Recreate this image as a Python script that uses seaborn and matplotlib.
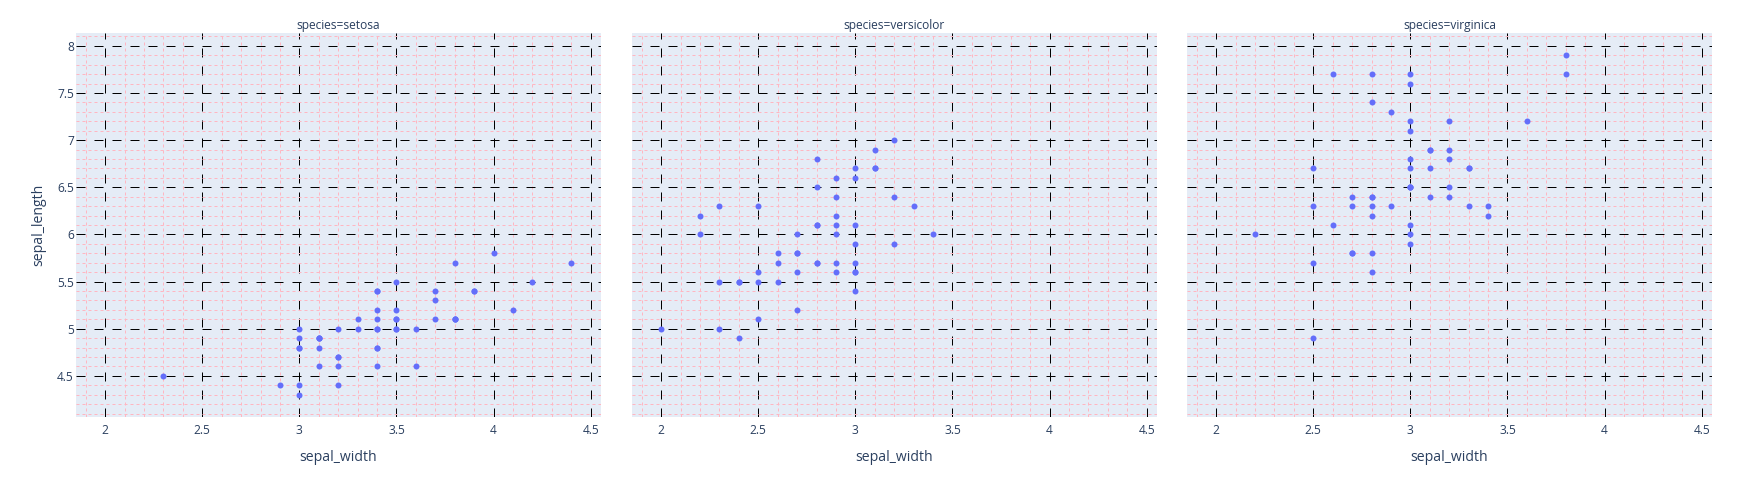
import numpy as np
import pandas as pd
import matplotlib
matplotlib.use("Agg")
import matplotlib.pyplot as plt
from matplotlib.ticker import MultipleLocator, FuncFormatter
import seaborn as sns

# iris sepal measurements, one list pair per species
species_names = ["setosa", "versicolor", "virginica"]

setosa_width = [3.5, 3.0, 3.2, 3.1, 3.6, 3.9, 3.4, 3.4, 2.9, 3.1,
                3.7, 3.4, 3.0, 3.0, 4.0, 4.4, 3.9, 3.5, 3.8, 3.8,
                3.4, 3.7, 3.6, 3.3, 3.4, 3.0, 3.4, 3.5, 3.4, 3.2,
                3.1, 3.4, 4.1, 4.2, 3.1, 3.2, 3.5, 3.1, 3.0, 3.4,
                3.5, 2.3, 3.2, 3.5, 3.8, 3.0, 3.8, 3.2, 3.7, 3.3]
setosa_length = [5.1, 4.9, 4.7, 4.6, 5.0, 5.4, 4.6, 5.0, 4.4, 4.9,
                 5.4, 4.8, 4.8, 4.3, 5.8, 5.7, 5.4, 5.1, 5.7, 5.1,
                 5.4, 5.1, 4.6, 5.1, 4.8, 5.0, 5.0, 5.2, 5.2, 4.7,
                 4.8, 5.4, 5.2, 5.5, 4.9, 5.0, 5.5, 4.9, 4.4, 5.1,
                 5.0, 4.5, 4.4, 5.0, 5.1, 4.8, 5.1, 4.6, 5.3, 5.0]

versicolor_width = [3.2, 3.2, 3.1, 2.3, 2.8, 2.8, 3.3, 2.4, 2.9, 2.7,
                    2.0, 3.0, 2.2, 2.9, 2.9, 3.1, 3.0, 2.7, 2.2, 2.5,
                    3.2, 2.8, 2.5, 2.8, 2.9, 3.0, 2.8, 3.0, 2.9, 2.6,
                    2.4, 2.4, 2.7, 2.7, 3.0, 3.4, 3.1, 2.3, 3.0, 2.5,
                    2.6, 3.0, 2.6, 2.3, 2.7, 3.0, 2.9, 2.9, 2.5, 2.8]
versicolor_length = [7.0, 6.4, 6.9, 5.5, 6.5, 5.7, 6.3, 4.9, 6.6, 5.2,
                     5.0, 5.9, 6.0, 6.1, 5.6, 6.7, 5.6, 5.8, 6.2, 5.6,
                     5.9, 6.1, 6.3, 6.1, 6.4, 6.6, 6.8, 6.7, 6.0, 5.7,
                     5.5, 5.5, 5.8, 6.0, 5.4, 6.0, 6.7, 6.3, 5.6, 5.5,
                     5.5, 6.1, 5.8, 5.0, 5.6, 5.7, 5.7, 6.2, 5.1, 5.7]

virginica_width = [3.3, 2.7, 3.0, 2.9, 3.0, 3.0, 2.5, 2.9, 2.5, 3.6,
                   3.2, 2.7, 3.0, 2.5, 2.8, 3.2, 3.0, 3.8, 2.6, 2.2,
                   3.2, 2.8, 2.8, 2.7, 3.3, 3.2, 2.8, 3.0, 2.8, 3.0,
                   2.8, 3.8, 2.8, 2.8, 2.6, 3.0, 3.4, 3.1, 3.0, 3.1,
                   3.1, 3.1, 2.7, 3.2, 3.3, 3.0, 2.5, 3.0, 3.4, 3.0]
virginica_length = [6.3, 5.8, 7.1, 6.3, 6.5, 7.6, 4.9, 7.3, 6.7, 7.2,
                    6.5, 6.4, 6.8, 5.7, 5.8, 6.4, 6.5, 7.7, 7.7, 6.0,
                    6.9, 5.6, 7.7, 6.3, 6.7, 7.2, 6.2, 6.1, 6.4, 7.2,
                    7.4, 7.9, 6.4, 6.3, 6.1, 7.7, 6.3, 6.4, 6.0, 6.9,
                    6.7, 6.9, 5.8, 6.8, 6.7, 6.7, 6.3, 6.5, 6.2, 5.9]

df = pd.DataFrame({
    "sepal_width": setosa_width + versicolor_width + virginica_width,
    "sepal_length": setosa_length + versicolor_length + virginica_length,
    "species": ["setosa"] * 50 + ["versicolor"] * 50 + ["virginica"] * 50,
})

TEXT = "#2a3f5f"
BG = "#E5ECF6"
DOT = "#636EFA"
PX = 0.72  # points per pixel at dpi 100

sns.set_style("white")
plt.rcParams["font.family"] = ["Open Sans", "DejaVu Sans"]
plt.rcParams["lines.scale_dashes"] = False

W, H = 1748, 478
fig = plt.figure(figsize=(W / 100, H / 100), dpi=100)

left_px = [76, 632, 1187]
top_px, bottom_px, width_px = 32.7, 417.3, 525
fmt = FuncFormatter(lambda v, p: "%g" % v)

for i, sp in enumerate(species_names):
    ax = fig.add_axes([left_px[i] / W, 1 - bottom_px / H,
                       width_px / W, (bottom_px - top_px) / H])
    ax.set_facecolor(BG)
    sub = df[df["species"] == sp]
    sns.scatterplot(data=sub, x="sepal_width", y="sepal_length", ax=ax,
                    color=DOT, s=(6 * PX) ** 2, linewidth=0, zorder=3)
    ax.set_xlim(1.85, 4.553)
    ax.set_ylim(4.06, 8.14)

    ax.xaxis.set_major_locator(MultipleLocator(0.5))
    ax.yaxis.set_major_locator(MultipleLocator(0.5))
    ax.xaxis.set_minor_locator(MultipleLocator(0.1))
    ax.yaxis.set_minor_locator(MultipleLocator(0.1))
    ax.xaxis.set_major_formatter(fmt)
    ax.yaxis.set_major_formatter(fmt)
    ax.set_axisbelow(True)
    ax.grid(which="minor", color="#FFB6C1", linewidth=1 * PX,
            linestyle=(0, (3 * PX, 3 * PX)), zorder=0)
    ax.grid(which="major", color="black", linewidth=1 * PX,
            linestyle=(0, (9 * PX, 9 * PX)), zorder=1)
    ax.tick_params(which="both", length=0, labelsize=12 * PX, colors=TEXT)
    ax.tick_params(axis="x", pad=5)
    ax.tick_params(axis="y", pad=1.5)
    for s in ax.spines.values():
        s.set_visible(False)

    ax.set_xlabel("sepal_width", fontsize=14 * PX, color=TEXT, labelpad=9)
    if i == 0:
        ax.set_ylabel("sepal_length", fontsize=14 * PX, color=TEXT, labelpad=8)
    else:
        ax.set_ylabel("")
        ax.tick_params(axis="y", labelleft=False)
    ax.text(0.5, 1.02, f"species={sp}", transform=ax.transAxes,
            ha="center", va="center", fontsize=12 * PX, color=TEXT)

fig.savefig("out.png", dpi=100, facecolor="white")
